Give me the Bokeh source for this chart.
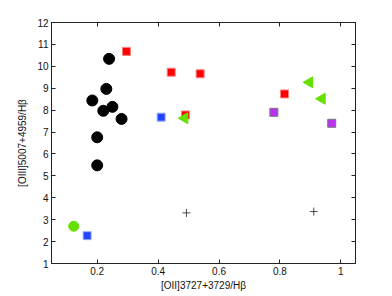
from bokeh.plotting import figure
from bokeh.models import Range1d, LinearAxis, FixedTicker
from bokeh.embed import file_html
from bokeh.resources import INLINE

# Data
black_x = [0.184, 0.200, 0.220, 0.230, 0.239, 0.250, 0.280, 0.200]
black_y = [8.44, 6.76, 7.97, 8.97, 10.34, 8.15, 7.60, 5.48]

red_x = [0.296, 0.443, 0.538, 0.490, 0.815]
red_y = [10.68, 9.73, 9.66, 7.78, 8.74]

blue_x = [0.410, 0.167]
blue_y = [7.68, 2.27]

tri_x = [0.487, 0.897, 0.938]
tri_y = [7.63, 9.27, 8.52]

purple_x = [0.780, 0.970]
purple_y = [7.90, 7.40]

gcirc_x = [0.123]
gcirc_y = [2.70]

cross_x = [0.493, 0.911]
cross_y = [3.31, 3.37]

x_ticks = [0.2, 0.4, 0.6, 0.8, 1.0]
y_ticks = list(range(1, 13))

FONT = "Liberation Sans"

p = figure(frame_width=304, frame_height=241, output_backend="svg",
           toolbar_location=None, x_range=Range1d(0.05, 1.048),
           y_range=Range1d(1, 12), min_border_left=51, min_border_top=22,
           min_border_right=20, min_border_bottom=10)
p.background_fill_color = "white"
p.border_fill_color = "white"
p.outline_line_color = "#222222"
p.outline_line_width = 1
p.grid.visible = False

for ax in [p.xaxis[0], p.yaxis[0]]:
    ax.major_tick_in = 4
    ax.major_tick_out = 0
    ax.minor_tick_line_color = None
    ax.axis_line_color = "#222222"
    ax.major_tick_line_color = "#222222"
    ax.major_label_text_font = FONT
    ax.major_label_text_font_size = "10px"
    ax.major_label_text_color = "#111111"
    ax.axis_label_text_font = FONT
    ax.axis_label_text_font_size = "10px"
    ax.axis_label_text_font_style = "normal"
    ax.axis_label_text_color = "#111111"

p.xaxis[0].ticker = FixedTicker(ticks=x_ticks)
p.yaxis[0].ticker = FixedTicker(ticks=y_ticks)
p.xaxis[0].major_label_overrides = {1.0: "1"}
p.xaxis[0].axis_label = "[OII]3727+3729/Hβ"
p.yaxis[0].axis_label = "[OIII]5007+4959/Hβ"
p.xaxis[0].major_label_standoff = 3
p.yaxis[0].major_label_standoff = 3
p.xaxis[0].axis_label_standoff = 2
p.yaxis[0].axis_label_standoff = 6

top = LinearAxis(ticker=FixedTicker(ticks=x_ticks),
                 major_label_overrides={t: "" for t in x_ticks},
                 major_tick_in=4, major_tick_out=0, minor_tick_line_color=None,
                 axis_line_color="#222222", major_tick_line_color="#222222",
                 major_label_standoff=0)
right = LinearAxis(ticker=FixedTicker(ticks=y_ticks[1:]),
                   major_label_overrides={t: "" for t in y_ticks[1:]},
                   major_tick_in=4, major_tick_out=0, minor_tick_line_color=None,
                   axis_line_color="#222222", major_tick_line_color="#222222",
                   major_label_standoff=0)
p.add_layout(top, "above")
p.add_layout(right, "right")

p.scatter(black_x, black_y, marker="circle", size=11, fill_color="black", line_color="black")
p.scatter(red_x, red_y, marker="square", size=8, fill_color="#ff0000", line_color="#ff8080")
p.scatter(blue_x, blue_y, marker="square", size=8, fill_color="#2244ff", line_color="#99aaff")
p.scatter(tri_x, tri_y, marker="triangle", angle=1.5708, size=11, fill_color="#66e000", line_color="#66e000")
p.scatter(purple_x, purple_y, marker="square", size=8, fill_color="#b833f0", line_color="#777777")
p.scatter(gcirc_x, gcirc_y, marker="circle", size=10, fill_color="#66e000", line_color="#66e000")
p.scatter(cross_x, cross_y, marker="cross", size=8, line_color="#222222", line_width=0.8)

open("out.html", "w").write(file_html(p, INLINE))
